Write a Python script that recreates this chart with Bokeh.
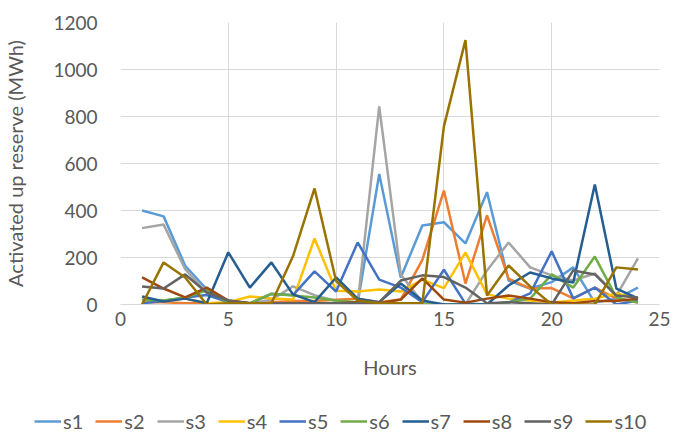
from bokeh.plotting import figure
from bokeh.layouts import column
from bokeh.models import Legend, LegendItem, FixedTicker
from bokeh.embed import file_html
from bokeh.resources import INLINE

hours = list(range(1, 25))
s1 = [400, 375, 165, 65, 8, 5, 5, 5, 5, 5, 5, 555, 115, 336, 350, 260, 478, 102, 68, 95, 158, 8, 25, 72]
s2 = [10, 10, 5, 5, 3, 5, 10, 15, 15, 20, 25, 10, 21, 190, 485, 89, 379, 110, 68, 70, 26, 72, 25, 8]
s3 = [325, 340, 150, 50, 10, 5, 20, 77, 40, 15, 5, 843, 128, 10, 0, 0, 145, 264, 158, 124, 102, 132, 38, 196]
s4 = [12, 17, 25, 5, 10, 34, 26, 21, 281, 58, 55, 64, 55, 106, 70, 221, 43, 25, 17, 8, 17, 25, 47, 25]
s5 = [5, 15, 30, 40, 10, 5, 45, 40, 141, 55, 264, 106, 72, 10, 148, 4, 0, 8, 47, 226, 26, 72, 0, 17]
s6 = [21, 17, 30, 60, 10, 5, 46, 38, 30, 17, 10, 5, 5, 0, 0, 0, 0, 10, 25, 128, 72, 204, 30, 8]
s7 = [34, 13, 25, 5, 222, 72, 179, 43, 10, 115, 25, 10, 89, 17, 0, 0, 0, 81, 136, 111, 94, 511, 68, 26]
s8 = [115, 68, 30, 72, 17, 5, 5, 5, 5, 5, 10, 5, 21, 111, 21, 8, 25, 38, 25, 10, 5, 15, 15, 25]
s9 = [77, 68, 128, 51, 17, 5, 5, 5, 5, 5, 5, 10, 102, 124, 117, 72, 5, 10, 5, 0, 145, 128, 38, 30]
s10 = [0, 179, 115, 0, 5, 5, 5, 205, 494, 100, 17, 5, 5, 5, 758, 1125, 38, 166, 77, 0, 0, 0, 158, 149]

series = [s1, s2, s3, s4, s5, s6, s7, s8, s9, s10]
names = ["s1", "s2", "s3", "s4", "s5", "s6", "s7", "s8", "s9", "s10"]
colors = ["#5B9BD5", "#ED7D31", "#A5A5A5", "#FFC000", "#4472C4",
          "#70AD47", "#255E91", "#9E480E", "#636363", "#997300"]

x_ticks = [0, 5, 10, 15, 20, 25]
y_ticks = [0, 200, 400, 600, 800, 1000, 1200]

FONT = "Lato"
TXT = "#595959"
W = 671

p = figure(width=W, height=385, output_backend="svg", toolbar_location=None,
           x_range=(0, 25), y_range=(0, 1200),
           min_border_left=115, min_border_right=12, min_border_top=22, min_border_bottom=81)
p.outline_line_color = None
p.background_fill_color = "white"
p.border_fill_color = "white"
p.frame_align = False

for name, vals, c in zip(names, series, colors):
    p.line(hours, vals, line_color=c, line_width=2.5)

p.xaxis.ticker = FixedTicker(ticks=x_ticks)
p.yaxis.ticker = FixedTicker(ticks=y_ticks)
p.xgrid.ticker = FixedTicker(ticks=x_ticks)
p.ygrid.ticker = FixedTicker(ticks=y_ticks)
p.xgrid.grid_line_color = "#D9D9D9"
p.ygrid.grid_line_color = "#D9D9D9"

for ax in (p.xaxis[0], p.yaxis[0]):
    ax.major_tick_line_color = None
    ax.minor_tick_line_color = None
    ax.major_label_text_font = FONT
    ax.major_label_text_font_size = "19px"
    ax.major_label_text_color = TXT
    ax.axis_label_text_font = FONT
    ax.axis_label_text_font_size = "20px"
    ax.axis_label_text_color = TXT
    ax.axis_label_text_font_style = "normal"

p.xaxis.axis_line_color = "#D9D9D9"
p.yaxis.axis_line_color = None
p.xaxis.axis_label = "Hours"
p.yaxis.axis_label = "Activated up reserve (MWh)"
p.xaxis.major_label_standoff = 1
p.xaxis.axis_label_standoff = 26
p.yaxis.major_label_standoff = 17
p.yaxis.axis_label_standoff = 23

# legend strip below the chart (its sample lines lie outside its view)
lg = figure(width=W, height=48, output_backend="svg", toolbar_location=None,
            x_range=(-100, -99), y_range=(0, 1), min_border=0,
            x_axis_location=None, y_axis_location=None)
lg.frame_align = False
lg.grid.visible = False
lg.outline_line_color = None
lg.border_fill_color = "white"
items = []
for name, vals, c in zip(names, series, colors):
    r = lg.line(hours, vals, line_color=c, line_width=2.5)
    items.append(LegendItem(label=name, renderers=[r]))
legend = Legend(items=items, orientation="horizontal", location=(34, 0),
                glyph_width=27, glyph_height=20, label_standoff=2, spacing=12,
                label_text_font=FONT, label_text_font_size="20px", label_text_color=TXT,
                border_line_color=None, background_fill_alpha=0, padding=0, margin=0,
                label_height=20)
lg.add_layout(legend, "center")

layout = column(p, lg, spacing=0)
open("out.html", "w").write(file_html(layout, INLINE))
